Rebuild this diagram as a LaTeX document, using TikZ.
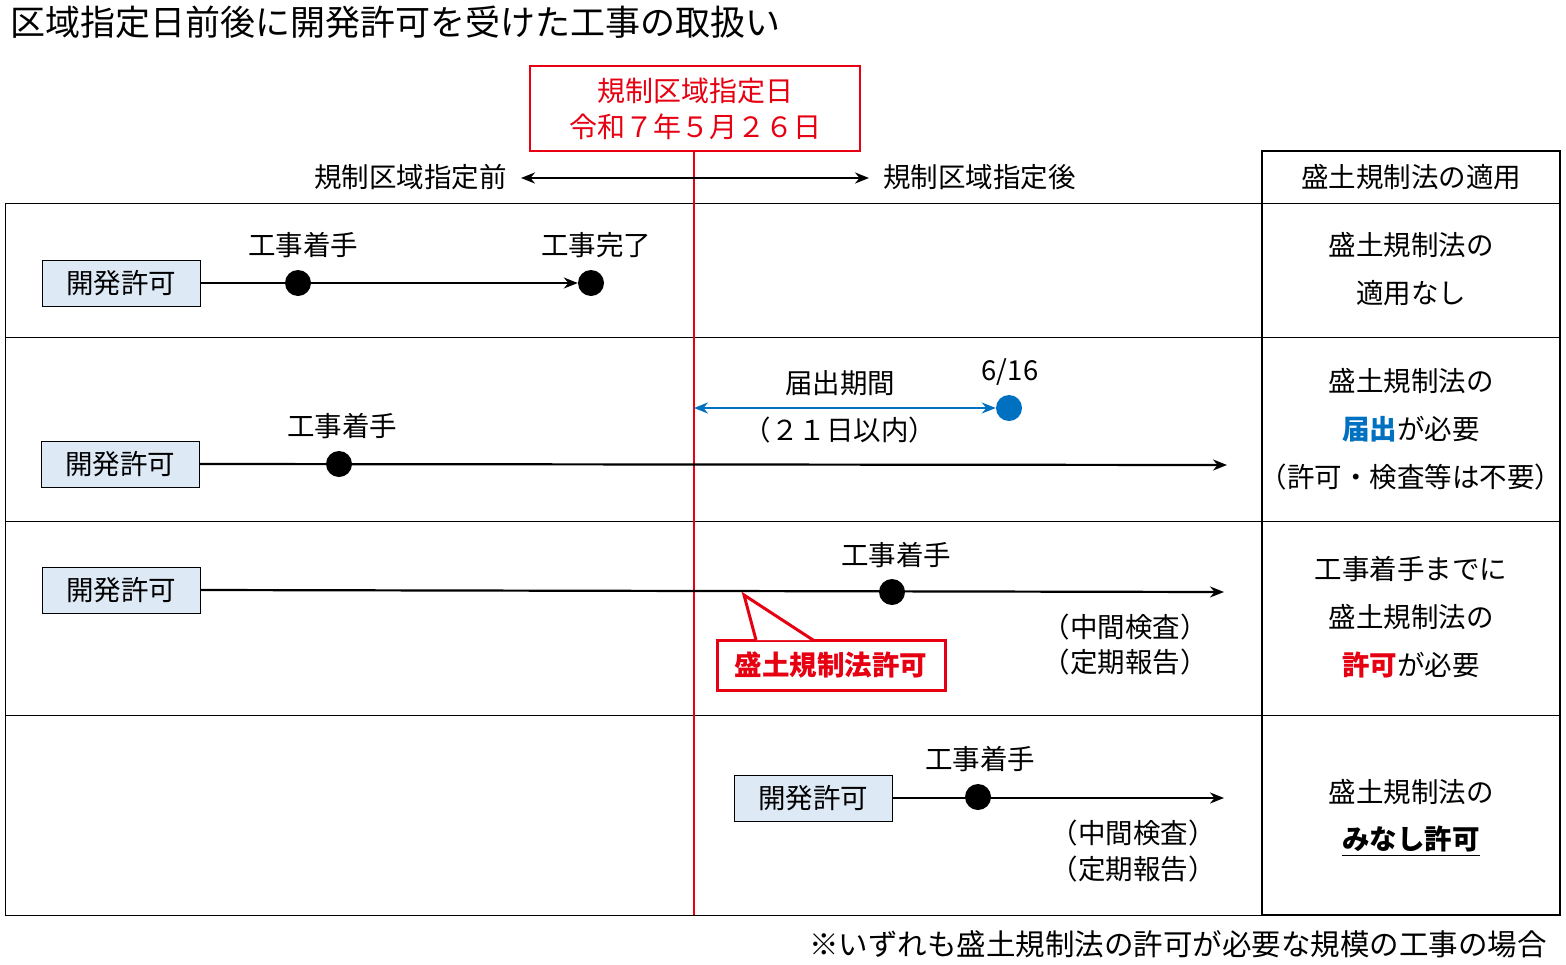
\documentclass[tikz,border=0pt]{standalone}
\usepackage{fontspec}
\setmainfont{Noto Sans CJK JP}
\usetikzlibrary{arrows.meta}
\definecolor{boxblue}{RGB}{222,233,246}
\definecolor{fblue}{RGB}{0,112,192}
\definecolor{fred}{RGB}{230,0,18}
\begin{document}
\begin{tikzpicture}[x=1pt,y=-1pt,
  txt/.style={font=\fontsize{27.5}{30}\selectfont,inner sep=0pt},
  permit/.style={draw,fill=boxblue,minimum width=158pt,minimum height=46pt,inner sep=0pt,font=\fontsize{27.5}{30}\selectfont,line width=1pt},
  dot/.style={circle,fill=black,minimum size=26pt,inner sep=0pt},
  tl/.style={line width=2.2pt,-{Stealth[length=14pt,width=11pt]}},
  grid/.style={line width=0.8pt}]
\useasboundingbox (0,0) rectangle (1566,964);
\node[anchor=west,font=\fontsize{35}{38}\selectfont,inner sep=0pt] (title) at (10,22) {区域指定日前後に開発許可を受けた工事の取扱い};
% table
\draw[grid] (5,203) rectangle (1560,915);
\draw[line width=1.3pt] (1262,151) rectangle (1560,915);
\draw[grid] (5,337) -- (1560,337);
\draw[grid] (5,521) -- (1560,521);
\draw[grid] (5,715) -- (1560,715);
\node[txt] (hdr) at (1411,177) {盛土規制法の適用};
% red date box
\node[draw=fred,line width=2pt,minimum width=330pt,minimum height=85pt,inner sep=0pt,align=center,text=fred,font=\fontsize{28}{36}\selectfont] (date) at (695,108.5) {規制区域指定日\\令和７年５月２６日};
\coordinate (vb) at (694,915);
\draw[fred,line width=1.8pt] (date.south -| vb) -- (vb);
% before/after
\coordinate (mid) at (694,178);
\node[txt,anchor=east] (bef) at (507,177) {規制区域指定前};
\node[txt,anchor=west] (aft) at (883,177) {規制区域指定後};
\coordinate (al) at (521,178);
\coordinate (ar) at (869,178);
\draw[line width=2.2pt,-{Stealth[length=14pt,width=11pt]}] (mid) -- (al);
\draw[line width=2.2pt,-{Stealth[length=14pt,width=11pt]}] (mid) -- (ar);
% row1
\node[permit] (p1) at (121,283) {開発許可};
\node[dot] (d1a) at (298,283) {};
\node[dot] (d1b) at (591,283) {};
\draw[tl] (p1.east) -- (d1b.west);
\node[txt] (l1a) at (303,245) {工事着手};
\node[txt] (l1b) at (596,245) {工事完了};
\node[txt] (r1a) at (1411,245) {盛土規制法の};
\node[txt] (r1b) at (1411,293) {適用なし};
% row2
\node[permit] (p2) at (120,464) {開発許可};
\coordinate (e2) at (1227,465);
\draw[tl] (p2.east) -- (e2);
\node[dot] (d2) at (339,464) {};
\node[txt] (l2) at (342,426) {工事着手};
\coordinate (bl) at (694,408);
\node[circle,fill=fblue,minimum size=26pt,inner sep=0pt] (d2b) at (1009,408) {};
\draw[fblue,line width=2.2pt,{Stealth[length=14pt,width=11pt]}-{Stealth[length=14pt,width=11pt]}] (bl) -- (d2b.west);
\node[txt] (n616) at (1010,372) {6/16};
\node[txt] (tdk) at (840,383) {届出期間};
\node[txt] (t21) at (840,430) {（２１日以内）};
\node[txt] (r2a) at (1411,381) {盛土規制法の};
\node[txt] (r2b) at (1411,429) {\textcolor{fblue}{\bfseries 届出}が必要};
\node[txt] (r2c) at (1411,477) {（許可・検査等は不要）};
% row3
\node[permit] (p3) at (121,590) {開発許可};
\coordinate (e3) at (1224,592);
\draw[tl] (p3.east) -- (e3);
\node[dot] (d3) at (892,592) {};
\node[txt] (l3) at (896,555) {工事着手};
\node[txt] (c3a) at (1125,627) {（中間検査）};
\node[txt] (c3b) at (1125,662) {（定期報告）};
\node[draw=fred,line width=3pt,fill=white,minimum width=228pt,minimum height=50pt,inner sep=0pt,text=fred,font=\fontsize{27.5}{30}\selectfont\bfseries] (call) at (831,665) {盛土規制法許可};
\coordinate (tip) at (744,595);
\draw[fred,line width=3pt,fill=white] ([xshift=-75pt,yshift=-1.5pt]call.north) -- (tip) -- ([xshift=-18pt,yshift=-1.5pt]call.north);
\node[txt] (r3a) at (1411,569) {工事着手までに};
\node[txt] (r3b) at (1411,617) {盛土規制法の};
\node[txt] (r3c) at (1411,665) {\textcolor{fred}{\bfseries 許可}が必要};
% row4
\node[permit] (p4) at (813,798) {開発許可};
\coordinate (e4) at (1224,798);
\draw[tl] (p4.east) -- (e4);
\node[dot] (d4) at (978,797) {};
\node[txt] (l4) at (980,759) {工事着手};
\node[txt] (c4a) at (1133,833) {（中間検査）};
\node[txt] (c4b) at (1133,869) {（定期報告）};
\node[txt] (r4a) at (1411,792) {盛土規制法の};
\node[txt] (r4b) at (1411,839) {\bfseries みなし許可};
\draw[line width=1.5pt] ([yshift=-3pt]r4b.south west) -- ([yshift=-3pt]r4b.south east);
% footer
\node[txt,anchor=east,font=\fontsize{29.5}{32}\selectfont] (foot) at (1547,944) {※いずれも盛土規制法の許可が必要な規模の工事の場合};
\end{tikzpicture}
\end{document}
